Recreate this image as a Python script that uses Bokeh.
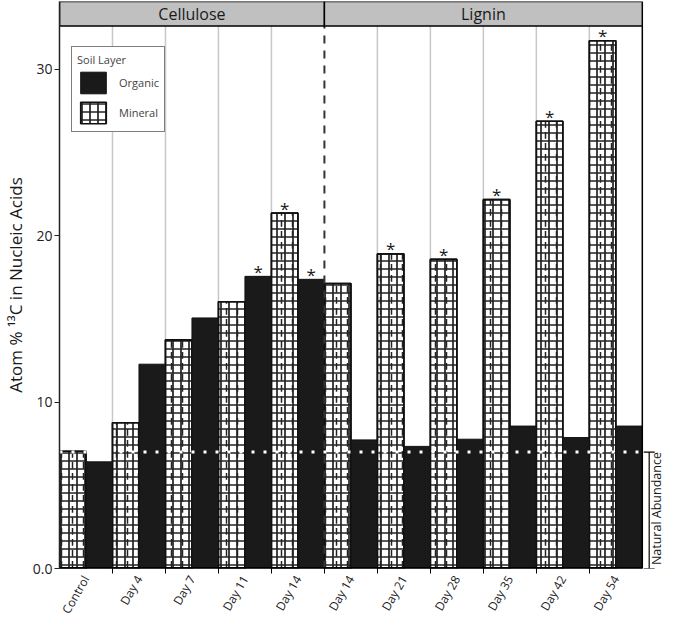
import numpy as np
from bokeh.plotting import figure
from bokeh.models import (ColumnDataSource, FixedTicker, Range1d, Legend, LegendItem,
                          Whisker, TeeHead)
from bokeh.core.properties import value
from bokeh.embed import file_html
from bokeh.resources import INLINE

# ---------------- data ----------------
categories = ["Control", "Day 4", "Day 7", "Day 11", "Day 14",
              "Day 14", "Day 21", "Day 28", "Day 35", "Day 42", "Day 54"]
substrate = ["Cellulose"] * 5 + ["Lignin"] * 6
panels = ["Cellulose", "Lignin"]
mineral = [7.05, 8.76, 13.74, 16.03, 21.36, 17.13, 18.91, 18.58, 22.17, 26.88, 31.72]
organic = [6.41, 12.28, 15.06, 17.56, 17.38, 7.73, 7.34, 7.77, 8.56, 7.87, 8.56]
mineral_sig = [False, False, False, False, True, False, True, True, True, True, True]
organic_sig = [False, False, False, True, True, False, False, False, False, False, False]
natural_abundance = 7.0
y_ticks = [0, 10, 20, 30]
y_tick_labels = ["0.0", "10", "20", "30"]

FONT = "Open Sans"
n = len(categories)
idx = np.arange(n)
panel_top = 32.6
strip_h = 1.48

p = figure(width=664, height=623, output_backend="svg", toolbar_location=None,
           x_range=Range1d(0, n + 0.4), y_range=Range1d(0, panel_top + strip_h),
           min_border_left=48, min_border_right=1, min_border_top=1, min_border_bottom=30)
p.outline_line_color = None
p.xgrid.visible = False
p.ygrid.visible = False
p.background_fill_color = "white"
p.border_fill_color = "white"

# panel boundaries
counts = [substrate.count(s) for s in panels]
edges = np.concatenate([[0], np.cumsum(counts)])
grid_x = [b for b in idx[1:] if b not in edges]

p.segment(x0=grid_x, y0=0, x1=grid_x, y1=panel_top, line_color="#c8c8c8", line_width=1.5)

src = ColumnDataSource(dict(xm=idx + 0.25, xo=idx + 0.75, mineral=mineral, organic=organic))
mineral_r = p.vbar(x="xm", top="mineral", bottom=0, width=0.5, source=src,
                   fill_color="white", line_color="#111111", line_width=1.6,
                   hatch_pattern="cross", hatch_scale=8, hatch_weight=1.7, hatch_color="#222222")
p.vbar(x="xm", top="mineral", bottom=0, width=0.5, source=src,
       fill_alpha=0, line_color="#111111", line_width=1.6,
       hatch_pattern="vertical_dash", hatch_scale=11, hatch_weight=1.5, hatch_color="#222222")
organic_r = p.vbar(x="xo", top="organic", bottom=0, width=0.5, source=src,
                   fill_color="#1a1a1a", line_color="#111111", line_width=1)

# natural abundance dotted line
p.segment(x0=[0], y0=[natural_abundance], x1=[n], y1=[natural_abundance],
          line_color="white", line_width=3, line_dash="3 9")

# panel divider (dashed)
div_x = list(edges[1:-1])
p.segment(x0=div_x, y0=0, x1=div_x, y1=panel_top, line_color="#333333", line_width=2, line_dash="8 7")

# frame lines
p.segment(x0=[n], y0=[0], x1=[n], y1=[panel_top], line_color="black", line_width=1.5)
p.segment(x0=[0], y0=[0], x1=[n], y1=[0], line_color="black", line_width=3)

# strips
p.quad(left=edges[:-1], right=edges[1:], bottom=panel_top, top=panel_top + strip_h,
       fill_color="#c0c0c0", line_color="black", line_width=1.5)
p.text(x=(edges[:-1] + edges[1:]) / 2, y=[panel_top + strip_h / 2] * len(panels), text=panels,
       text_font=value(FONT), text_font_size="16px", text_color="#1a1a1a",
       text_align="center", text_baseline="middle")

# asterisks
ax_x = [x + 0.25 for x, s in zip(idx, mineral_sig) if s] + [x + 0.75 for x, s in zip(idx, organic_sig) if s]
ax_y = [v for v, s in zip(mineral, mineral_sig) if s] + [v for v, s in zip(organic, organic_sig) if s]
p.text(x=ax_x, y=ax_y, text=["*"] * len(ax_x), text_font=value(FONT), text_font_size="17px",
       text_color="#1a1a1a", text_align="center", text_baseline="middle", y_offset=-5)

# natural abundance bracket
wsrc = ColumnDataSource(dict(base=[n + 0.13], lower=[0], upper=[natural_abundance]))
p.add_layout(Whisker(source=wsrc, base="base", lower="lower", upper="upper", dimension="height",
                     line_color="black", line_width=1.2,
                     upper_head=TeeHead(size=11, line_color="black", line_width=1.2),
                     lower_head=TeeHead(size=11, line_color="black", line_width=1.2)))
p.text(x=[n + 0.27], y=[natural_abundance], text=["Natural Abundance"], angle=np.pi / 2,
       text_font=value(FONT), text_font_size="12.5px", text_color="#1a1a1a",
       text_align="right", text_baseline="middle")

# axes
xa = p.xaxis[0]
xa.ticker = FixedTicker(ticks=list(idx + 0.5), minor_ticks=list(idx[1:]))
xa.major_label_overrides = {float(i + 0.5): c for i, c in zip(idx, categories)}
xa.major_label_orientation = np.pi / 3
xa.major_tick_out = 0
xa.major_tick_in = 0
xa.minor_tick_out = 5
xa.minor_tick_in = 0
xa.minor_tick_line_color = "black"
xa.axis_line_color = None
xa.major_label_text_font = FONT
xa.major_label_text_font_size = "12px"
xa.major_label_text_color = "#1a1a1a"
xa.major_label_standoff = 3

ya = p.yaxis[0]
ya.ticker = FixedTicker(ticks=y_ticks)
ya.major_label_overrides = {t: l for t, l in zip(y_ticks, y_tick_labels)}
ya.minor_tick_line_color = None
ya.major_tick_out = 5
ya.major_tick_in = 0
ya.major_tick_line_color = "#222222"
ya.axis_line_color = "#222222"
ya.axis_line_width = 1.5
ya.major_label_text_font = FONT
ya.major_label_text_font_size = "14px"
ya.major_label_text_color = "#222222"
ya.major_label_standoff = 2
ya.axis_label = "Atom % \u00b9\u00b3C in Nucleic Acids"
ya.axis_label_text_font = FONT
ya.axis_label_text_font_size = "17px"
ya.axis_label_text_font_style = "normal"
ya.axis_label_text_color = "#1a1a1a"
ya.axis_label_standoff = 3

legend = Legend(items=[LegendItem(label="Organic", renderers=[organic_r]),
                       LegendItem(label="Mineral", renderers=[mineral_r])],
                location=(12, 436), title="Soil Layer",
                title_text_font=FONT, title_text_font_size="11px", title_text_font_style="normal",
                label_text_font=FONT, label_text_font_size="11px",
                glyph_width=32, glyph_height=27, label_standoff=10, spacing=3, padding=5,
                margin=0, title_standoff=2,
                border_line_color="black", border_line_width=1.2, background_fill_alpha=1)
p.add_layout(legend)

open("out.html", "w").write(file_html(p, INLINE))
